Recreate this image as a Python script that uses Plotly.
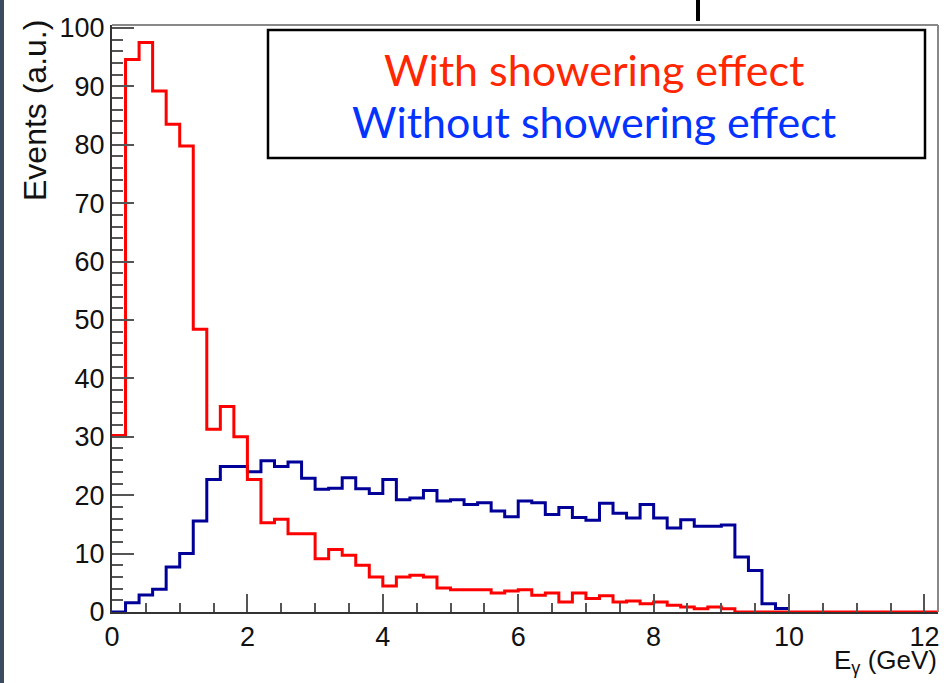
import plotly.graph_objects as go

# ---- data (bin width 0.2 GeV) ----
bin_width = 0.2
red_values = [30.2, 94.6, 97.5, 89.2, 83.5, 79.8, 48.4, 31.3, 35.2, 30.0,
              22.7, 15.3, 15.9, 13.4, 13.4, 9.1, 10.7, 9.7, 8.0, 6.0,
              4.45, 6.0, 6.3, 6.0, 4.1, 3.8, 3.8, 3.8, 3.25, 3.6,
              3.8, 2.85, 3.25, 1.7, 3.25, 2.3, 2.8, 1.7, 1.9, 1.4,
              1.7, 1.15, 0.86, 0.57, 0.86, 0.57, 0, 0, 0, 0,
              0, 0, 0, 0, 0, 0, 0, 0, 0, 0, 0]
blue_values = [0, 1.6, 2.9, 3.9, 7.7, 10.0, 15.6, 22.7, 24.9, 24.9,
               24.0, 25.9, 24.9, 25.7, 22.9, 21.0, 21.2, 23.0, 21.1, 20.3,
               22.7, 19.2, 19.5, 20.8, 19.0, 19.2, 18.4, 18.7, 17.3, 16.3,
               19.0, 18.7, 16.7, 17.9, 16.2, 15.7, 18.6, 16.9, 16.1, 18.4,
               16.1, 14.4, 15.8, 14.7, 14.7, 14.9, 9.4, 7.1, 1.4, 0.6]
legend_labels = ["With showering effect", "Without showering effect"]
x_tick_values = [0, 2, 4, 6, 8, 10, 12]
y_tick_values = [0, 10, 20, 30, 40, 50, 60, 70, 80, 90, 100]
x_title = "E<sub>γ</sub> (GeV)"
y_title = "Events (a.u.)"


def step_xy(values):
    xs = [round(i * bin_width, 4) for i in range(len(values) + 1)]
    ys = list(values) + [values[-1]]
    return xs, ys


W, H = 944, 683
L, R, T, B = 112, 938, 25, 612


def px(xp):
    return (xp - L) / (R - L)


def py(yp):
    return (B - yp) / (B - T)


fig = go.Figure()
rx, ry = step_xy(red_values)
bx, by = step_xy(blue_values)
fig.add_trace(go.Scatter(x=bx, y=by, mode="lines", line_shape="hv",
                         line=dict(color="#000099", width=3), showlegend=False))
fig.add_trace(go.Scatter(x=rx, y=ry, mode="lines", line_shape="hv",
                         line=dict(color="#ff0000", width=3), showlegend=False))

tickfont = dict(family="Liberation Sans, Arial", size=27, color="#111")
fig.update_xaxes(range=[0, 12.2], tickvals=x_tick_values, ticks="inside", ticklen=18,
                 tickwidth=2, tickcolor="#555", showgrid=False, zeroline=False,
                 showline=True, linecolor="#333", linewidth=2, tickfont=tickfont,
                 minor=dict(dtick=0.5, ticks="inside", ticklen=9, tickwidth=2,
                            tickcolor="#555", showgrid=False))
fig.update_yaxes(range=[0, 100.5], tickvals=y_tick_values, ticks="inside", ticklen=22,
                 tickwidth=2, tickcolor="#555", showgrid=False, zeroline=False,
                 showline=True, linecolor="#333", linewidth=2, tickfont=tickfont,
                 minor=dict(dtick=2, ticks="inside", ticklen=11, tickwidth=2,
                            tickcolor="#555", showgrid=False))

shapes = [
    # frame top and right
    dict(type="line", xref="paper", yref="paper", x0=0, x1=1, y0=1, y1=1,
         line=dict(color="#888", width=2)),
    dict(type="line", xref="paper", yref="paper", x0=1, x1=1, y0=0, y1=1,
         line=dict(color="#888", width=2)),
    # legend box
    dict(type="rect", xref="paper", yref="paper", x0=px(268), x1=px(925),
         y0=py(158), y1=py(30), line=dict(color="black", width=2.5),
         fillcolor="white", layer="below"),
    # slide edge on the left
    dict(type="rect", xref="paper", yref="paper", x0=px(0), x1=px(4),
         y0=py(H), y1=py(0), line=dict(width=0), fillcolor="#3c4b5f"),
    # cut-off glyph of the slide title
    dict(type="line", xref="paper", yref="paper", x0=px(698), x1=px(698),
         y0=py(21), y1=py(0), line=dict(color="black", width=4)),
]

legend_font = "Lato, Open Sans, sans-serif"
annotations = [
    dict(text=legend_labels[0], xref="paper", yref="paper", x=px(594), y=py(70),
         xanchor="center", yanchor="middle", showarrow=False,
         font=dict(family=legend_font, size=43, color="#ff2600")),
    dict(text=legend_labels[1], xref="paper", yref="paper", x=px(594), y=py(121),
         xanchor="center", yanchor="middle", showarrow=False,
         font=dict(family=legend_font, size=43, color="#0433ff")),
    dict(text=y_title, xref="paper", yref="paper", x=px(35), y=py(111),
         xanchor="center", yanchor="middle", textangle=-90, showarrow=False,
         font=dict(family="Liberation Sans, Arial", size=32, color="#111")),
    dict(text=x_title, xref="paper", yref="paper", x=px(939), y=py(661),
         xanchor="right", yanchor="middle", showarrow=False,
         font=dict(family="Liberation Sans, Arial", size=26, color="#111")),
]

fig.update_layout(width=W, height=H, margin=dict(l=L, r=W - R, t=T, b=H - B),
                  plot_bgcolor="white", paper_bgcolor="white",
                  shapes=shapes, annotations=annotations)

fig.write_html("out.html", config={"displayModeBar": False},
               post_script="document.body.style.margin='0';")
